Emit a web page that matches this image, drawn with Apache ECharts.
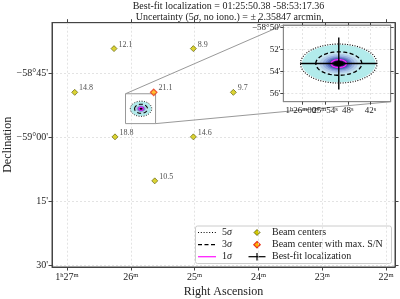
<!DOCTYPE html>
<html><head><meta charset="utf-8">
<script src="https://cdn.jsdelivr.net/npm/echarts@6/dist/echarts.min.js"></script>
<style>html,body{margin:0;padding:0;background:#fff}#c{width:400px;height:299px}</style>
</head><body><div id="c"></div>
<script>
const FONT = '"Liberation Serif", "Times New Roman", "DejaVu Serif", serif';

// ---- data (RA in minutes past 1h, Dec in degrees) ----
const beamRA  = [26.263, 25.020, 26.879, 25.641, 24.393, 26.248, 25.020, 25.625];
const beamDec = [-58.653, -58.653, -58.824, -58.824, -58.824, -58.998, -58.998, -59.170];
const beamSN  = [12.1, 8.9, 14.8, 21.1, 9.7, 18.8, 14.6, 10.5];

const bestFitRA = 25.8397;     // 01:25:50.38
const bestFitDec = -58.88816;  // -58:53:17.36
const sigma5RA = 0.168;        // 5-sigma semi-axis, RA minutes
const sigma5Dec = 0.0297;      // 5-sigma semi-axis, Dec degrees
const errRA = 0.168;           // best-fit cross half-length RA
const errDec = 0.0395;         // best-fit cross half-length Dec
const sigmaLevels = [5, 3, 1];

const mainRATicks = [22, 23, 24, 25, 26, 27];
const mainRALabels = ['22{s|m}', '23{s|m}', '24{s|m}', '25{s|m}', '26{s|m}', '1{s|h}27{s|m}'];
const mainDecTicks = [-58.75, -59.0, -59.25, -59.5];
const mainDecLabels = ["\u221258°45'", "\u221259°00'", "15'", "30'"];

const insetRARange = [25.612, 26.083];
const insetDecRange = [-58.9462, -58.8295];
const insetRATicks = [25.7, 25.8, 25.9, 26.0];
const insetRALabels = ['42{s|s}', '48{s|s}', '25{s|m}54{s|s}', '1{s|h}26{s|m}00{s|s}'];
const insetDecTicks = [-58.83333, -58.86667, -58.9, -58.93333];
const insetDecLabels = ["\u221258°50'", "52'", "54'", "56'"];

const titleLine1 = 'Best-fit localization = 01:25:50.38 -58:53:17.36';
const titleLine2 = 'Uncertainty (5{i|σ}, no iono.) = ± 2.35847 arcmin';

// ---- styling ----
const fillRings = [
  [0.96, '#b2ebeb'], [0.6, '#c4e5ef'], [0.5, '#b3cde9'], [0.42, '#97b1df'],
  [0.35, '#7690d0'], [0.3, '#5b6dbd'], [0.25, '#4a4aa3'], [0.205, '#3b2c84'],
  [0.165, '#1f1452'], [0.13, '#000000']
];

const maxIdx = beamSN.indexOf(Math.max(...beamSN));
const beamData = [], maxData = [];
beamRA.forEach((ra, i) => { (i === maxIdx ? maxData : beamData).push([ra, beamDec[i], beamSN[i]]); });

const chart = echarts.init(document.getElementById('c'), null, {renderer: 'canvas'});

function labelFrom(ticks, labels) {
  return v => { const i = ticks.findIndex(t => Math.abs(t - v) < 1e-4); return i >= 0 ? labels[i] : ''; };
}
const rich9 = {s: {fontSize: 6.5, verticalAlign: 'top', fontFamily: FONT, color: '#222'}};

const splitStyle = {show: true, lineStyle: {color: '#dcdcdc', width: 0.8, type: [2, 2]}};
const axLine = {show: true, lineStyle: {color: '#444', width: 1}};
const inLine = {show: true, lineStyle: {color: '#888', width: 1}};

function ellipseRender(lw) {
  return function (params, api) {
    const cx = api.value(0), cy = api.value(1), a = api.value(2), b = api.value(3);
    const pts = s => { const p = []; for (let k = 0; k <= 80; k++) { const t = 2 * Math.PI * k / 80; p.push(api.coord([cx + s * a * Math.cos(t), cy + s * b * Math.sin(t)])); } return p; };
    const ch = [];
    fillRings.forEach(r => ch.push({type: 'polygon', shape: {points: pts(r[0])}, style: {fill: r[1]}}));
    const lv = sigmaLevels;
    ch.push({type: 'polyline', shape: {points: pts(lv[0] / 5)}, style: {stroke: '#000', lineWidth: lw, lineDash: [1, 1.5], fill: null}});
    ch.push({type: 'polyline', shape: {points: pts(lv[1] / 5)}, style: {stroke: '#000', lineWidth: lw * 1.2, lineDash: [4, 2.5], fill: null}});
    ch.push({type: 'polyline', shape: {points: pts(lv[2] / 5)}, style: {stroke: '#ff22ff', lineWidth: lw * 1.2, fill: null}});
    return {type: 'group', children: ch};
  };
}

const option = {
  animation: false,
  backgroundColor: '#fff',
  textStyle: {fontFamily: FONT},
  title: {
    text: titleLine1 + '\n' + titleLine2,
    left: 223.5, top: -3.5, textAlign: 'center',
    textStyle: {fontFamily: FONT, fontSize: 10, fontWeight: 'normal', color: '#222', lineHeight: 10.5,
      rich: {i: {fontStyle: 'italic', fontFamily: FONT, fontSize: 10, color: '#222', lineHeight: 10.5}}}
  },
  grid: [
    {left: 52, top: 22.7, width: 343, height: 244.3, show: true, borderColor: '#444', borderWidth: 1, backgroundColor: '#fff', z: 0, containLabel: false, outerBoundsMode: 'none'},
    {left: 283.3, top: 25, width: 107.4, height: 76.7, show: true, borderColor: '#888', borderWidth: 1, backgroundColor: '#fff', z: 10, containLabel: false, outerBoundsMode: 'none'}
  ],
  xAxis: [
    {gridIndex: 0, type: 'value', inverse: true, min: 21.86, max: 27.235, position: 'bottom',
      axisLine: axLine,
      axisTick: {show: true, customValues: mainRATicks, inside: false, length: 3.5, lineStyle: {color: '#444'}},
      axisLabel: {customValues: mainRATicks, formatter: labelFrom(mainRATicks, mainRALabels), fontSize: 10, color: '#222', margin: 5, fontFamily: FONT, rich: rich9, hideOverlap: false},
      splitLine: splitStyle,
      name: 'Right Ascension', nameLocation: 'middle', nameGap: 19, nameMoveOverlap: false,
      nameTextStyle: {fontSize: 12, color: '#222', fontFamily: FONT}},
    {gridIndex: 0, type: 'value', inverse: true, min: 21.86, max: 27.235, position: 'top',
      axisLine: axLine,
      axisTick: {show: true, customValues: mainRATicks, inside: false, length: 3.5, lineStyle: {color: '#444'}},
      axisLabel: {show: false}, splitLine: {show: false}},
    {gridIndex: 1, type: 'value', inverse: true, min: insetRARange[0], max: insetRARange[1], position: 'bottom', z: 11,
      axisLine: inLine,
      axisTick: {show: true, customValues: insetRATicks, inside: false, length: 3, lineStyle: {color: '#444'}},
      axisLabel: {show: false},
      splitLine: splitStyle},
    {gridIndex: 1, type: 'value', inverse: true, min: insetRARange[0], max: insetRARange[1], position: 'top', z: 11,
      axisLine: inLine,
      axisTick: {show: true, customValues: insetRATicks, inside: false, length: 3, lineStyle: {color: '#444'}},
      axisLabel: {show: false}, splitLine: {show: false}}
  ],
  yAxis: [
    {gridIndex: 0, type: 'value', min: -59.5067, max: -58.5517, position: 'left',
      axisLine: axLine,
      axisTick: {show: true, customValues: mainDecTicks, inside: false, length: 3.5, lineStyle: {color: '#444'}},
      axisLabel: {customValues: mainDecTicks, formatter: labelFrom(mainDecTicks, mainDecLabels), fontSize: 10, color: '#222', margin: 4, fontFamily: FONT, hideOverlap: false},
      splitLine: splitStyle,
      name: 'Declination', nameLocation: 'middle', nameGap: 38, nameRotate: 90, nameMoveOverlap: false,
      nameTextStyle: {fontSize: 12, color: '#222', fontFamily: FONT}},
    {gridIndex: 0, type: 'value', min: -59.5067, max: -58.5517, position: 'right',
      axisLine: axLine,
      axisTick: {show: true, customValues: mainDecTicks, inside: false, length: 3.5, lineStyle: {color: '#444'}},
      axisLabel: {show: false}, splitLine: {show: false}},
    {gridIndex: 1, type: 'value', min: insetDecRange[0], max: insetDecRange[1], position: 'left', z: 11,
      axisLine: inLine,
      axisTick: {show: true, customValues: insetDecTicks, inside: false, length: 3, lineStyle: {color: '#444'}},
      axisLabel: {show: false},
      splitLine: splitStyle},
    {gridIndex: 1, type: 'value', min: insetDecRange[0], max: insetDecRange[1], position: 'right', z: 11,
      axisLine: inLine,
      axisTick: {show: true, customValues: insetDecTicks, inside: false, length: 3, lineStyle: {color: '#444'}},
      axisLabel: {show: false}, splitLine: {show: false}}
  ],
  series: [
    // zoom box + connectors
    {type: 'custom', xAxisIndex: 0, yAxisIndex: 0, z: 3, silent: true, clip: false,
      data: [[insetRARange[0], insetRARange[1], insetDecRange[0], insetDecRange[1]]],
      renderItem: function (params, api) {
        const r0 = api.value(0), r1 = api.value(1), d0 = api.value(2), d1 = api.value(3);
        const tl = api.coord([r1, d1]), br = api.coord([r0, d0]);
        let itl = tl, ibr = br;
        try {
          itl = chart.convertToPixel({gridIndex: 1}, [r1, d1]);
          ibr = chart.convertToPixel({gridIndex: 1}, [r0, d0]);
        } catch (e) {}
        const st = {stroke: '#999', lineWidth: 1, fill: null};
        return {type: 'group', children: [
          {type: 'rect', shape: {x: tl[0], y: tl[1], width: br[0] - tl[0], height: br[1] - tl[1]}, style: st},
          {type: 'line', shape: {x1: tl[0], y1: tl[1], x2: itl[0], y2: itl[1]}, style: st},
          {type: 'line', shape: {x1: br[0], y1: br[1], x2: ibr[0], y2: ibr[1]}, style: st}
        ]};
      }},
    // main-panel localization ellipses
    {type: 'custom', xAxisIndex: 0, yAxisIndex: 0, z: 4, silent: true,
      data: [[bestFitRA, bestFitDec, sigma5RA, sigma5Dec]], renderItem: ellipseRender(0.9)},
    // beam centers
    {type: 'scatter', xAxisIndex: 0, yAxisIndex: 0, z: 5, symbol: 'diamond', symbolSize: 6,
      data: beamData,
      itemStyle: {color: '#d2c800', borderColor: '#555500', borderWidth: 0.8},
      label: {show: true, formatter: p => p.value[2].toFixed(1), position: 'right', distance: 1, offset: [0, -4], fontSize: 8, color: '#222', fontFamily: FONT}},
    {type: 'scatter', xAxisIndex: 0, yAxisIndex: 0, z: 5, symbol: 'diamond', symbolSize: 6.5,
      data: maxData,
      itemStyle: {color: '#ffb000', borderColor: '#e8321e', borderWidth: 1.2},
      label: {show: true, formatter: p => p.value[2].toFixed(1), position: 'right', distance: 1, offset: [0, -4], fontSize: 8, color: '#222', fontFamily: FONT}},
    // inset ellipses
    {type: 'custom', xAxisIndex: 2, yAxisIndex: 2, z: 12, silent: true, clip: true,
      data: [[bestFitRA, bestFitDec, sigma5RA, sigma5Dec]], renderItem: ellipseRender(1.1)},
    // inset best-fit cross
    {type: 'custom', xAxisIndex: 2, yAxisIndex: 2, z: 13, silent: true, clip: true,
      data: [[bestFitRA, bestFitDec, errRA, errDec]],
      renderItem: function (params, api) {
        const x = api.value(0), y = api.value(1), ex = api.value(2), ey = api.value(3);
        const a = api.coord([x - ex, y]), b = api.coord([x + ex, y]);
        const c = api.coord([x, y - ey]), d = api.coord([x, y + ey]);
        const st = {stroke: '#000', lineWidth: 1.4};
        return {type: 'group', children: [
          {type: 'line', shape: {x1: a[0], y1: a[1], x2: b[0], y2: b[1]}, style: st},
          {type: 'line', shape: {x1: c[0], y1: c[1], x2: d[0], y2: d[1]}, style: st}
        ]};
      }},
    // inset tick labels (RA, below the inset)
    {type: 'custom', xAxisIndex: 2, yAxisIndex: 2, z: 14, silent: true, clip: false,
      data: insetRATicks.map((t, i) => [t, insetDecRange[0], i]),
      renderItem: function (params, api) {
        const p = api.coord([api.value(0), api.value(1)]);
        return {type: 'text', x: p[0], y: p[1] + 4, style: {text: insetRALabels[api.value(2)], fontSize: 9, fontFamily: FONT, fill: '#222', align: 'center', verticalAlign: 'top', rich: rich9}};
      }},
    // inset tick labels (Dec, left of the inset)
    {type: 'custom', xAxisIndex: 2, yAxisIndex: 2, z: 14, silent: true, clip: false,
      data: insetDecTicks.map((t, i) => [insetRARange[1], t, i]),
      renderItem: function (params, api) {
        const p = api.coord([api.value(0), api.value(1)]);
        return {type: 'text', x: p[0] - 3, y: p[1], style: {text: insetDecLabels[api.value(2)], fontSize: 9, fontFamily: FONT, fill: '#222', align: 'right', verticalAlign: 'middle'}};
      }}
  ],
  graphic: [
    {type: 'group', z: 20, children: [
      {type: 'rect', shape: {x: 195.5, y: 226, width: 196, height: 37.5, r: 2}, style: {fill: 'rgba(255,255,255,0.9)', stroke: '#ccc', lineWidth: 1}},
      {type: 'line', shape: {x1: 198, y1: 232.5, x2: 216, y2: 232.5}, style: {stroke: '#000', lineWidth: 1, lineDash: [1, 1.8]}},
      {type: 'line', shape: {x1: 198, y1: 244.7, x2: 216, y2: 244.7}, style: {stroke: '#000', lineWidth: 1.2, lineDash: [4, 2.5]}},
      {type: 'line', shape: {x1: 198, y1: 256.7, x2: 216, y2: 256.7}, style: {stroke: '#ff22ff', lineWidth: 1.3}},
      {type: 'text', x: 222, y: 232.5, style: {text: '5{i|σ}', fontSize: 10, fontFamily: FONT, fill: '#222', verticalAlign: 'middle', rich: {i: {fontStyle: 'italic', fontSize: 10, fontFamily: FONT}}}},
      {type: 'text', x: 222, y: 244.7, style: {text: '3{i|σ}', fontSize: 10, fontFamily: FONT, fill: '#222', verticalAlign: 'middle', rich: {i: {fontStyle: 'italic', fontSize: 10, fontFamily: FONT}}}},
      {type: 'text', x: 222, y: 256.7, style: {text: '1{i|σ}', fontSize: 10, fontFamily: FONT, fill: '#222', verticalAlign: 'middle', rich: {i: {fontStyle: 'italic', fontSize: 10, fontFamily: FONT}}}},
      {type: 'polygon', shape: {points: [[257, 229.5], [260, 232.5], [257, 235.5], [254, 232.5]]}, style: {fill: '#d2c800', stroke: '#555500', lineWidth: 0.8}},
      {type: 'polygon', shape: {points: [[257, 241.5], [260.2, 244.7], [257, 247.9], [253.8, 244.7]]}, style: {fill: '#ffb000', stroke: '#e8321e', lineWidth: 1.2}},
      {type: 'line', shape: {x1: 248.5, y1: 256.7, x2: 265.5, y2: 256.7}, style: {stroke: '#000', lineWidth: 1.2}},
      {type: 'line', shape: {x1: 257, y1: 253, x2: 257, y2: 260.5}, style: {stroke: '#000', lineWidth: 1.2}},
      {type: 'text', x: 272, y: 232.5, style: {text: 'Beam centers', fontSize: 10, fontFamily: FONT, fill: '#222', verticalAlign: 'middle'}},
      {type: 'text', x: 272, y: 244.7, style: {text: 'Beam center with max. S/N', fontSize: 10, fontFamily: FONT, fill: '#222', verticalAlign: 'middle'}},
      {type: 'text', x: 272, y: 256.7, style: {text: 'Best-fit localization', fontSize: 10, fontFamily: FONT, fill: '#222', verticalAlign: 'middle'}}
    ]}
  ]
};
chart.setOption(option);
</script>
</body></html>
